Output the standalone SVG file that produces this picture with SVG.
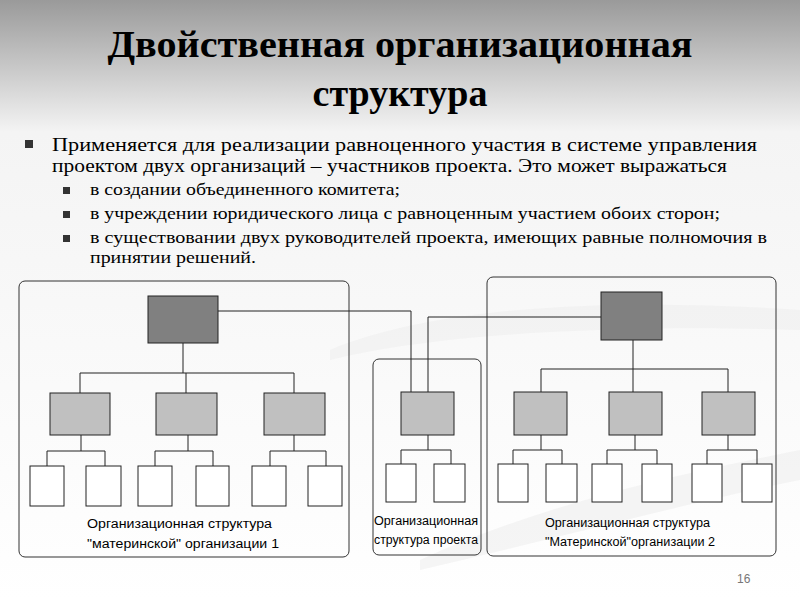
<svg xmlns="http://www.w3.org/2000/svg" width="800" height="600" viewBox="0 0 800 600">
<defs>
<linearGradient id="bg" x1="0" y1="0" x2="0" y2="1">
<stop offset="0" stop-color="#9a9a9a"/><stop offset="0.22" stop-color="#f4f4f4"/><stop offset="1" stop-color="#ffffff"/>
</linearGradient>
<style>
.c{fill:none;stroke:#222;stroke-width:1}
.top{fill:#808080;stroke:#222}
.mid{fill:#c0c0c0;stroke:#222}
.leaf{fill:#fff;stroke:#222}
.cont{fill:none;stroke:#333;stroke-width:1}
.t{font-family:"Liberation Serif",serif;font-size:19px;fill:#000}
.u{font-family:"Liberation Serif",serif;font-size:17px;fill:#000}
.s{font-family:"Liberation Sans",sans-serif;font-size:12px;fill:#000}
</style>
</defs>
<rect width="800" height="600" fill="url(#bg)"/>
<path d="M330 350 C 450 300 650 300 800 310 L800 330 C 650 325 450 330 330 360 Z" fill="#eee" opacity="0.6"/>
<path d="M420 560 C 550 500 700 470 800 450 L800 480 C 700 500 550 540 420 570 Z" fill="#eee" opacity="0.6"/>
<text x="400" y="57" text-anchor="middle" font-family="Liberation Serif,serif" font-weight="bold" font-size="38" textLength="585" lengthAdjust="spacingAndGlyphs">Двойственная организационная</text>
<text x="400" y="106" text-anchor="middle" font-family="Liberation Serif,serif" font-weight="bold" font-size="38">структура</text>
<rect x="25" y="140" width="8" height="8" fill="#333"/>
<text class="t" x="52" y="151" textLength="705" lengthAdjust="spacingAndGlyphs">Применяется для реализации равноценного участия в системе управления</text>
<text class="t" x="52" y="172" textLength="675" lengthAdjust="spacingAndGlyphs">проектом двух организаций – участников проекта. Это может выражаться</text>
<rect x="63" y="187" width="7" height="7" fill="#333"/>
<text class="u" x="90" y="195" textLength="310" lengthAdjust="spacingAndGlyphs">в создании объединенного комитета;</text>
<rect x="63" y="211" width="7" height="7" fill="#333"/>
<text class="u" x="90" y="219" textLength="630" lengthAdjust="spacingAndGlyphs">в учреждении юридического лица с равноценным участием обоих сторон;</text>
<rect x="63" y="235" width="7" height="7" fill="#333"/>
<text class="u" x="90" y="243" textLength="677" lengthAdjust="spacingAndGlyphs">в существовании двух руководителей проекта, имеющих равные  полномочия в</text>
<text class="u" x="90" y="263" textLength="166" lengthAdjust="spacingAndGlyphs">принятии решений.</text>
<g id="containers">
<rect class="cont" x="19" y="281" width="330" height="276" rx="6"/>
<rect class="cont" x="373" y="359" width="108" height="196" rx="6"/>
<rect class="cont" x="487" y="277" width="289" height="279" rx="6"/>
</g>
<g id="connectors" class="c">
<path d="M218 311 H411 V392"/>
<path d="M601 317 H428 V392"/>
<path d="M183 343 V373 M80 373 H294 M80 373 V393 M186 373 V393 M294 373 V393"/>
<path d="M81 435 V451 M47 451 H105 M47 451 V466 M105 451 V466"/>
<path d="M188 435 V451 M155 451 H213 M155 451 V466 M213 451 V466"/>
<path d="M294 435 V451 M270 451 H326 M270 451 V466 M326 451 V466"/>
<path d="M428 435 V450 M401 450 H451 M401 450 V464 M451 450 V464"/>
<path d="M633 340 V369 M541 369 H728 M541 369 V392 M633 369 V392 M728 369 V392"/>
<path d="M541 435 V450 M513 450 H562 M513 450 V464 M562 450 V464"/>
<path d="M635 435 V450 M607 450 H657 M607 450 V464 M657 450 V464"/>
<path d="M728 435 V450 M707 450 H757 M707 450 V464 M757 450 V464"/>
</g>
<g id="org1">
<rect class="top" x="148" y="296" width="70" height="47"/>
<rect class="mid" x="50" y="393" width="60" height="42"/>
<rect class="mid" x="156" y="393" width="61" height="42"/>
<rect class="mid" x="264" y="393" width="61" height="42"/>
<rect class="leaf" x="30" y="466" width="34" height="40"/>
<rect class="leaf" x="86" y="466" width="35" height="40"/>
<rect class="leaf" x="138" y="466" width="34" height="40"/>
<rect class="leaf" x="196" y="466" width="33" height="40"/>
<rect class="leaf" x="252" y="466" width="34" height="40"/>
<rect class="leaf" x="308" y="466" width="34" height="40"/>
<text class="s" x="87" y="528" font-size="13" textLength="185" lengthAdjust="spacingAndGlyphs">Организационная структура</text>
<text class="s" x="87" y="548" font-size="13" textLength="192" lengthAdjust="spacingAndGlyphs">"материнской" организации 1</text>
</g>
<g id="project">
<rect class="mid" x="401" y="392" width="53" height="43"/>
<rect class="leaf" x="386" y="464" width="30" height="38"/>
<rect class="leaf" x="434" y="464" width="31" height="38"/>
<text class="s" x="374" y="525" textLength="104" lengthAdjust="spacingAndGlyphs">Организационная</text>
<text class="s" x="374" y="544" textLength="104" lengthAdjust="spacingAndGlyphs">структура проекта</text>
</g>
<g id="org2">
<rect class="top" x="601" y="292" width="61" height="48"/>
<rect class="mid" x="514" y="392" width="53" height="43"/>
<rect class="mid" x="609" y="392" width="53" height="43"/>
<rect class="mid" x="702" y="392" width="53" height="43"/>
<rect class="leaf" x="498" y="464" width="30" height="38"/>
<rect class="leaf" x="546" y="464" width="31" height="38"/>
<rect class="leaf" x="592" y="464" width="30" height="38"/>
<rect class="leaf" x="642" y="464" width="30" height="38"/>
<rect class="leaf" x="692" y="464" width="30" height="38"/>
<rect class="leaf" x="742" y="464" width="30" height="38"/>
<text class="s" x="545" y="527" textLength="165" lengthAdjust="spacingAndGlyphs">Организационная структура</text>
<text class="s" x="545" y="546" textLength="170" lengthAdjust="spacingAndGlyphs">"Материнской"организации 2</text>
</g>
<text x="737" y="583" font-family="Liberation Sans,sans-serif" font-size="12" fill="#777">16</text>
</svg>
